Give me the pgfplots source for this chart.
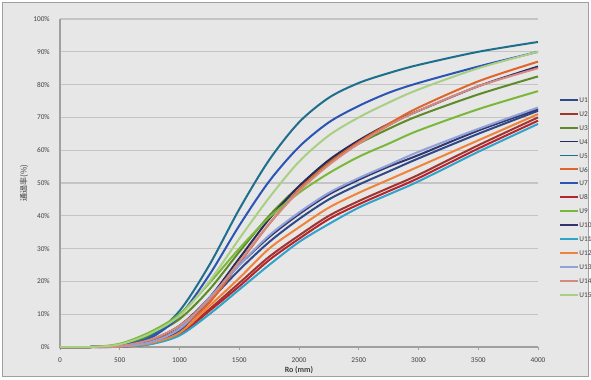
\documentclass[border=0pt]{standalone}
\usepackage{pgfplots}
\usepackage{pgfplotstable}
\pgfplotsset{compat=1.18}
\usepackage{fontspec}
\setmainfont{Carlito}
\newfontfamily\cjk{Noto Sans CJK JP}

\definecolor{cU1}{HTML}{2F4A8A}
\definecolor{cU2}{HTML}{A0342E}
\definecolor{cU3}{HTML}{5E8A2A}
\definecolor{cU4}{HTML}{2A2A5E}
\definecolor{cU5}{HTML}{1F6E8C}
\definecolor{cU6}{HTML}{E0652A}
\definecolor{cU7}{HTML}{2B55B5}
\definecolor{cU8}{HTML}{B52530}
\definecolor{cU9}{HTML}{7AB83A}
\definecolor{cU10}{HTML}{34346E}
\definecolor{cU11}{HTML}{2FA4C8}
\definecolor{cU12}{HTML}{F0823A}
\definecolor{cU13}{HTML}{8FA3D8}
\definecolor{cU14}{HTML}{D48A80}
\definecolor{cU15}{HTML}{A9CF82}
\definecolor{bgc}{HTML}{E7E7E7}
\definecolor{frame}{HTML}{A0A0A0}
\definecolor{gridc}{HTML}{C4C4C4}
\definecolor{txt}{HTML}{404040}

\pgfplotstableread{
X    U1   U2   U3   U4   U5   U6   U7   U8   U9   U10  U11  U12  U13  U14  U15
0    0    0    0    0    0    0    0    0    0    0    0    0    0    0    0
250  0    0    0    0    0    0    0    0    0    0    0    0    0    0    0
500  0.1  0.1  0.6  0.3  0.5  0.2  0.4  0.1  1.0  0.2  0.1  0.1  0.2  0.3  0.8
750  1.3  1.0  3.5  2.0  3.0  1.8  2.6  0.9  4.5  1.4  0.8  1.1  1.4  2.2  4.0
1000 5.0  4.0  8.5  6.5  11.0 5.5  9.5  3.8  10.0 5.5  3.5  4.3  5.5  6.5  9.5
1250 14.0 11.5 17.5 15.0 25.0 13.5 22.0 11.0 19.5 15.0 10.0 12.5 15.0 14.5 20.0
1500 23.5 19.5 29.0 27.0 42.0 25.5 37.0 18.5 30.0 25.0 17.5 21.0 25.0 26.0 33.0
1750 32.0 27.5 40.0 39.0 57.0 37.5 50.5 26.5 39.5 33.5 25.0 30.0 34.0 37.5 45.5
2000 39.0 34.0 49.0 49.0 68.5 48.0 61.0 33.0 47.0 40.5 32.0 36.5 41.0 47.5 56.5
2250 45.0 40.0 56.5 57.0 76.0 56.0 68.5 39.0 53.0 46.5 37.5 42.5 47.0 55.5 64.5
2500 49.5 44.5 62.0 63.0 80.5 62.5 73.5 43.5 58.0 51.0 42.5 47.0 51.5 62.0 70.0
2750 53.5 48.5 66.5 68.0 83.5 68.0 77.5 47.5 62.0 55.0 46.5 51.0 55.5 67.5 74.5
3000 57.5 52.5 70.5 72.0 86.0 73.0 80.5 51.5 66.0 58.5 50.5 55.0 59.5 72.0 78.5
3500 65.0 61.5 77.0 79.5 90.0 81.0 85.5 60.5 72.5 66.0 59.5 63.0 66.5 79.5 85.0
4000 72.0 70.0 82.5 85.5 93.0 87.0 90.0 69.0 78.0 72.5 68.0 71.0 73.0 85.0 90.0
}\datatable

\begin{document}
\begin{tikzpicture}
\path[use as bounding box, fill=white] (0pt,0pt) rectangle (443.25pt,284.25pt);
\draw[frame, fill=bgc, line width=1.2pt] (1.9pt,1.9pt) rectangle (441.35pt,282.35pt);
\begin{axis}[
  at={(45pt,24pt)}, anchor=south west,
  scale only axis, width=358.5pt, height=246pt,
  xmin=0, xmax=4000, ymin=0, ymax=100,
  xtick={0,500,...,4000}, ytick={0,10,...,100},
  axis x line=bottom, axis y line=left,
  axis line style={-, draw=frame, line width=0.8pt},
  ymajorgrids, grid style={gridc, line width=0.8pt},
  ytick style={draw=none},
  xtick style={draw=frame, line width=0.5pt},
  tick align=outside, major tick length=2pt,
  /pgf/number format/assume math mode=true,
  /pgf/number format/set thousands separator={},
  tick label style={font=\fontsize{5.5}{6}\selectfont, text=txt, inner sep=0pt},
  yticklabel={\pgfmathprintnumber{\tick}\%},
  yticklabel style={anchor=east, xshift=-5.5pt},
  xticklabel style={anchor=north, yshift=-6pt},
  xlabel={Ro (mm)},
  xlabel style={font=\bfseries\fontsize{6}{7}\selectfont, text=txt, at={(axis description cs:0.5,-0.070)}, anchor=center},
  ylabel={\cjk 通過率(\%)},
  ylabel style={font=\fontsize{6}{7}\selectfont, text=txt, at={(axis description cs:-0.075,0.5)}, anchor=center},
  legend style={at={(axis description cs:1.036,0.771)}, anchor=north west, draw=none, fill=none,
    font=\fontsize{5.5}{6}\selectfont, text=txt,
    nodes={inner sep=0pt, text height=4pt, text depth=0pt},
    row sep=6.45pt},
  legend cell align=left,
  legend image code/.code={\draw[#1, line width=1.4pt] (0pt,0pt) -- (13.5pt,0pt);},
  every axis plot/.append style={line width=1.5pt, smooth, no markers},
  clip=false,
]
\addplot[cU1]  table[x=X, y=U1]  {\datatable}; \addlegendentry{U1}
\addplot[cU2]  table[x=X, y=U2]  {\datatable}; \addlegendentry{U2}
\addplot[cU3]  table[x=X, y=U3]  {\datatable}; \addlegendentry{U3}
\addplot[cU4]  table[x=X, y=U4]  {\datatable}; \addlegendentry{U4}
\addplot[cU5]  table[x=X, y=U5]  {\datatable}; \addlegendentry{U5}
\addplot[cU6]  table[x=X, y=U6]  {\datatable}; \addlegendentry{U6}
\addplot[cU7]  table[x=X, y=U7]  {\datatable}; \addlegendentry{U7}
\addplot[cU8]  table[x=X, y=U8]  {\datatable}; \addlegendentry{U8}
\addplot[cU9]  table[x=X, y=U9]  {\datatable}; \addlegendentry{U9}
\addplot[cU10] table[x=X, y=U10] {\datatable}; \addlegendentry{U10}
\addplot[cU11] table[x=X, y=U11] {\datatable}; \addlegendentry{U11}
\addplot[cU12] table[x=X, y=U12] {\datatable}; \addlegendentry{U12}
\addplot[cU13] table[x=X, y=U13] {\datatable}; \addlegendentry{U13}
\addplot[cU14] table[x=X, y=U14] {\datatable}; \addlegendentry{U14}
\addplot[cU15] table[x=X, y=U15] {\datatable}; \addlegendentry{U15}
\end{axis}
\end{tikzpicture}
\end{document}
